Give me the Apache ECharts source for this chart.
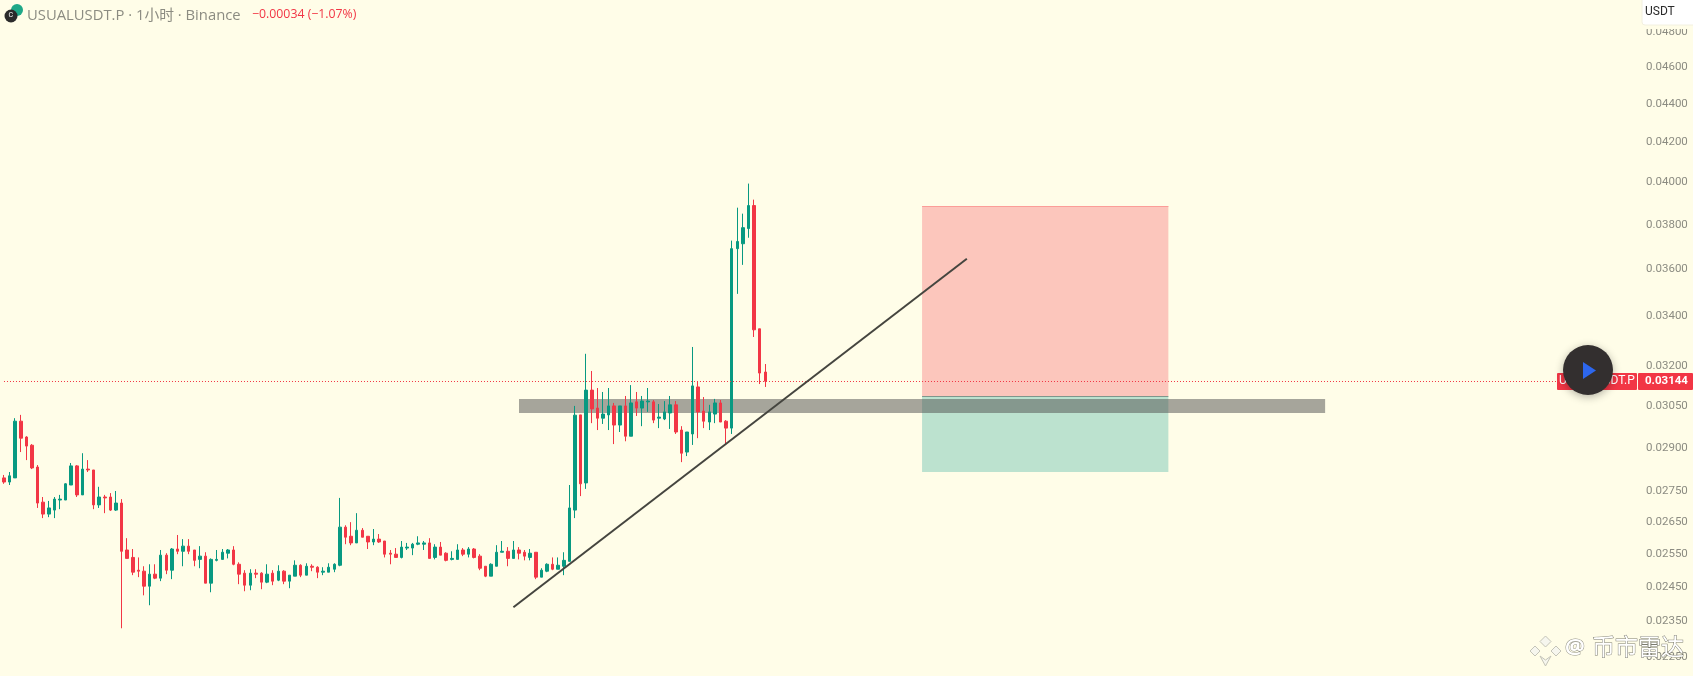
<!DOCTYPE html>
<html>
<head>
<meta charset="utf-8">
<title>USUALUSDT.P</title>
<script src="https://cdn.jsdelivr.net/npm/echarts@6/dist/echarts.min.js"></script>
<style>
  html, body { margin: 0; padding: 0; background: #fffde8; }
  #chart { width: 1693px; height: 676px; }
</style>
</head>
<body>
<div id="chart"></div>
<script>
// candle prices, in 0.00001 USDT
var opens = [
  2796,2782,2796,2995,2938,2909,2833,2715,2676,2689,
  2722,2722,2772,2837,2739,2826,2823,2706,2732,2732,
  2689,2712,2562,2539,2500,2497,2452,2488,2476,2546,
  2500,2565,2558,2574,2562,2533,2543,2461,2530,2533,
  2552,2562,2518,2491,2455,2491,2491,2464,2491,2470,
  2497,2467,2482,2515,2485,2512,2509,2494,2494,2503,
  2515,2634,2605,2584,2624,2605,2587,2596,2590,2552,
  2549,2539,2568,2568,2580,2580,2584,2539,2571,2552,
  2533,2533,2562,2549,2565,2543,2512,2482,2512,2555,
  2558,2536,2562,2555,2539,2555,2479,2497,2518,2503,
  2512,2527,2689,3018,2779,3110,3043,3006,3018,3051,
  2981,3051,2941,3066,3043,3066,3066,3006,3003,3025,
  3055,2963,2885,2949,3122,3032,2992,3021,3062,2995,
  2970,3692,3714,3783,3890,3350,3179
];
var closes = [
  2782,2803,2995,2934,2906,2830,2712,2676,2696,2725,
  2725,2776,2837,2739,2826,2823,2706,2732,2729,2689,
  2712,2558,2536,2494,2497,2452,2488,2476,2546,2500,
  2565,2558,2574,2558,2530,2543,2461,2533,2533,2555,
  2562,2518,2488,2455,2491,2488,2464,2488,2467,2497,
  2467,2485,2515,2485,2512,2509,2494,2497,2509,2518,
  2634,2602,2584,2624,2602,2587,2596,2587,2549,2549,
  2539,2571,2571,2580,2584,2584,2536,2571,2546,2530,
  2536,2562,2549,2565,2539,2506,2482,2518,2555,2558,
  2536,2562,2552,2543,2552,2479,2500,2518,2503,2515,
  2530,2696,3017,2776,3110,3040,3006,3021,3051,2981,
  3051,2941,3062,3043,3069,3069,2999,3010,3029,3055,
  2956,2881,2956,3126,3029,2995,3029,3062,2992,2970,
  3692,3724,3787,3890,3346,3175,3144
];
var lows = [
  2776,2772,2796,2885,2857,2826,2696,2663,2666,2663,
  2692,2722,2772,2732,2739,2816,2692,2696,2679,2686,
  2686,2330,2536,2485,2479,2425,2396,2473,2467,2488,
  2473,2549,2512,2549,2512,2506,2461,2434,2527,2533,
  2536,2515,2458,2437,2440,2476,2443,2461,2455,2467,
  2458,2446,2482,2479,2485,2497,2476,2485,2494,2494,
  2512,2580,2577,2584,2602,2565,2577,2584,2539,2518,
  2539,2536,2562,2546,2577,2562,2536,2533,2546,2527,
  2530,2533,2543,2539,2536,2500,2479,2482,2512,2555,
  2512,2536,2533,2530,2530,2473,2479,2494,2500,2503,
  2485,2527,2663,2735,2759,2988,2963,2985,2963,2913,
  2956,2923,2941,3014,2977,3029,2988,2970,2999,2967,
  2949,2850,2871,2910,2934,2970,2963,2988,2992,2913,
  2949,3495,3620,3741,3317,3133,3122
];
var highs = [
  2806,2816,3006,3018,2941,2913,2840,2732,2719,2732,
  2739,2778,2847,2840,2881,2857,2823,2766,2739,2745,
  2752,2725,2599,2565,2539,2512,2518,2518,2562,2552,
  2568,2609,2596,2596,2562,2574,2555,2536,2562,2565,
  2565,2574,2524,2500,2503,2503,2494,2518,2500,2515,
  2500,2485,2530,2518,2521,2518,2512,2509,2521,2521,
  2729,2640,2650,2679,2631,2605,2628,2612,2590,2562,
  2568,2590,2584,2584,2605,2590,2599,2580,2587,2555,
  2558,2580,2568,2571,2568,2549,2512,2521,2577,2590,
  2571,2590,2571,2562,2565,2555,2506,2521,2539,2539,
  2555,2772,3051,3018,3250,3183,3118,3103,3118,3062,
  3051,3088,3129,3103,3088,3118,3073,3058,3069,3088,
  3069,2977,2956,3277,3144,3084,3055,3077,3073,2999,
  3728,3880,3852,3995,3918,3350,3210
];
var tickLabels = [0.048, 0.046, 0.044, 0.042, 0.04, 0.038, 0.036, 0.034, 0.032,
  0.0305, 0.029, 0.0275, 0.0265, 0.0255, 0.0245, 0.0235, 0.0225];

var lastPrice = 0.03144;
// drawn tools: [bar index, price]
var trendStart = [91, 0.0239];
var trendEnd = [172, 0.03647];
var stopBox = [164, 208, 0.03888, 0.03087];
var targetBox = [164, 208, 0.03087, 0.02816];
var zoneBox = [92, 236, 0.03077, 0.03025];

var barSlots = 294; // bars plus the empty space on the right
var categories = [];
for (var i = 0; i < barSlots; i++) categories.push(String(i));

var candles = opens.map(function (o, i) {
  return [o / 1e5, closes[i] / 1e5, lows[i] / 1e5, highs[i] / 1e5];
});

var GREEN = '#089981', RED = '#f23645', GREY = '#8c8c82';
var FONT = '"Open Sans", "Noto Sans CJK SC", sans-serif';

function box(b, color) {
  return [
    { coord: [b[0], b[2]], itemStyle: { color: color } },
    { coord: [b[1], b[3]] }
  ];
}

function diamond(points) {
  return {
    type: 'polygon', shape: { points: points }, z: 30,
    style: { fill: '#f6f6ee', stroke: '#c4c4b8', lineWidth: 1 }
  };
}

var chart = echarts.init(document.getElementById('chart'));
chart.setOption({
  animation: false,
  backgroundColor: '#fffde8',
  title: [
    {
      text: 'USUALUSDT.P · 1小时 · Binance',
      left: 27, top: 8, padding: 0,
      textStyle: { color: GREY, fontSize: 14.8, fontWeight: 'normal', fontFamily: FONT }
    },
    {
      text: '−0.00034 (−1.07%)',
      left: 252, top: 8, padding: 0,
      textStyle: { color: RED, fontSize: 12.3, fontWeight: 'normal', fontFamily: FONT }
    }
  ],
  grid: { left: 1.2, right: 46, top: 0, bottom: 0 },
  xAxis: { type: 'category', data: categories, show: false },
  yAxis: {
    type: 'log',
    position: 'right',
    min: 0.02199,
    max: 0.04991,
    splitLine: { show: false },
    axisLine: { show: false },
    axisTick: { show: false },
    axisLabel: {
      customValues: tickLabels,
      color: GREY,
      fontFamily: 'Roboto',
      fontSize: 11.5,
      margin: -1,
      formatter: function (v) { return v.toFixed(5); }
    }
  },
  series: [{
    type: 'candlestick',
    data: candles,
    barWidth: 3,
    itemStyle: { color: GREEN, color0: RED, borderColor: GREEN, borderColor0: RED, borderWidth: 1 },
    markArea: {
      silent: true,
      data: [
        box(stopBox, '#fcc6bc'),
        box(targetBox, '#bce2cf'),
        box(zoneBox, 'rgba(77,77,78,0.5)')
      ]
    },
    markLine: {
      silent: true,
      symbol: 'none',
      label: { show: false },
      data: [
        [{ coord: [0, lastPrice], lineStyle: { color: RED, type: [1, 2], width: 1 } }, { coord: [barSlots - 1, lastPrice] }],
        [{ coord: [stopBox[0], stopBox[2]], lineStyle: { color: '#fb9d98', type: 'solid', width: 1 } }, { coord: [stopBox[1], stopBox[2]] }],
        [{ coord: [stopBox[0], stopBox[3]], lineStyle: { color: '#7f978c', type: 'solid', width: 1 } }, { coord: [stopBox[1], stopBox[3]] }],
        [{ coord: trendStart, lineStyle: { color: '#45453f', type: 'solid', width: 2 } }, { coord: trendEnd }]
      ]
    }
  }],
  graphic: [
    // symbol logo
    { type: 'circle', shape: { cx: 17, cy: 10, r: 6 }, style: { fill: '#1fa888' }, z: 10 },
    { type: 'circle', shape: { cx: 11, cy: 16, r: 6.5 }, style: { fill: '#2b2b2b' }, z: 11 },
    { type: 'text', x: 8.5, y: 12, style: { text: 'C', fill: '#fff', font: '7px Roboto' }, z: 12 },
    // currency box
    { type: 'rect', shape: { x: 1642, y: 25, width: 51, height: 4 }, style: { fill: '#fffde8' }, z: 10 },
    { type: 'rect', shape: { x: 1642, y: -4, width: 60, height: 29, r: 3 }, style: { fill: '#fff', stroke: '#f2f0e0' }, z: 11 },
    { type: 'text', x: 1645, y: 6, style: { text: 'USDT', fill: '#2a2a2a', font: '12px Roboto' }, z: 12 },
    // last price tags
    { type: 'rect', shape: { x: 1557, y: 373, width: 80, height: 17, r: 1 }, style: { fill: RED }, z: 10 },
    { type: 'rect', shape: { x: 1638, y: 373, width: 55, height: 17, r: 1 }, style: { fill: RED }, z: 10 },
    { type: 'text', x: 1559, y: 375, style: { text: 'USUALUSDT.P', fill: '#fff', font: '12px Roboto' }, z: 11 },
    { type: 'text', x: 1645, y: 375, style: { text: '0.03144', fill: '#fff', font: 'bold 11.5px Roboto' }, z: 11 },
    // play button
    {
      type: 'circle', shape: { cx: 1588, cy: 370, r: 25 },
      style: { fill: '#332f2f', shadowBlur: 8, shadowColor: 'rgba(0,0,0,0.3)', shadowOffsetY: 2 }, z: 20
    },
    { type: 'polygon', shape: { points: [[1583, 362], [1596, 370.5], [1583, 379]] }, style: { fill: '#2d67ee' }, z: 21 },
    // watermark
    diamond([[1545.5, 636], [1551, 641.5], [1545.5, 647], [1540, 641.5]]),
    diamond([[1535, 646], [1540, 651], [1535, 656], [1530, 651]]),
    diamond([[1556, 646], [1561, 651], [1556, 656], [1551, 651]]),
    diamond([[1540, 656], [1545.5, 660], [1551, 656], [1545.5, 666]]),
    {
      type: 'text', x: 1565, y: 637,
      style: { text: '@', fill: '#fff', font: 'bold 22px "Noto Sans"', stroke: 'rgba(110,110,100,0.75)', lineWidth: 1 }, z: 30
    },
    {
      type: 'text', x: 1592, y: 635,
      style: { text: '币市雷达', fill: '#fff', font: '23px "Noto Sans CJK SC"', stroke: 'rgba(90,90,80,0.8)', lineWidth: 1 }, z: 30
    }
  ]
});
window.addEventListener('resize', function () { chart.resize(); });
</script>
</body>
</html>
